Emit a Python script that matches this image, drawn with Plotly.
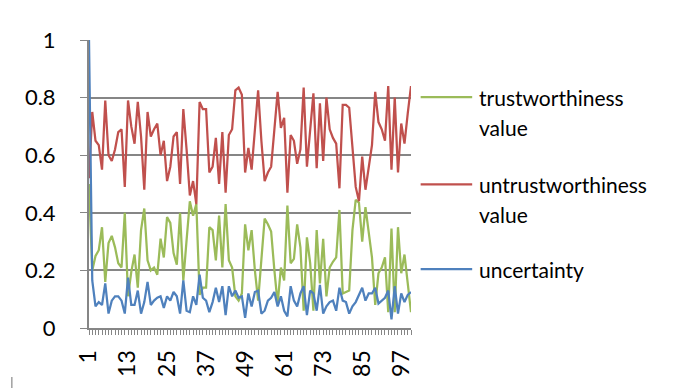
import plotly.graph_objects as go

# Observation index 1..100
index = list(range(1, 101))

trust = [
    0.50, 0.20, 0.25, 0.27, 0.35, 0.16, 0.295, 0.32, 0.28, 0.225,
    0.21, 0.40, 0.11, 0.195, 0.255, 0.14, 0.34, 0.415, 0.235, 0.20,
    0.21, 0.185, 0.31, 0.245, 0.385, 0.365, 0.26, 0.22, 0.40, 0.165,
    0.305, 0.44, 0.39, 0.43, 0.115, 0.14, 0.14, 0.35, 0.34, 0.235,
    0.39, 0.21, 0.43, 0.235, 0.21, 0.11, 0.095, 0.12, 0.36, 0.27,
    0.34, 0.20, 0.095, 0.245, 0.38, 0.36, 0.335, 0.20, 0.085, 0.21,
    0.165, 0.425, 0.225, 0.24, 0.36, 0.28, 0.06, 0.315, 0.225, 0.06,
    0.34, 0.155, 0.31, 0.11, 0.21, 0.23, 0.245, 0.41, 0.12, 0.125,
    0.13, 0.34, 0.445, 0.435, 0.30, 0.42, 0.34, 0.245, 0.08, 0.19,
    0.21, 0.245, 0.055, 0.345, 0.055, 0.35, 0.19, 0.255, 0.155, 0.055,
]

untrust = [
    0.52, 0.75, 0.65, 0.635, 0.55, 0.79, 0.60, 0.58, 0.62, 0.68,
    0.69, 0.49, 0.79, 0.70, 0.64, 0.785, 0.665, 0.48, 0.75, 0.665,
    0.69, 0.71, 0.60, 0.65, 0.51, 0.56, 0.665, 0.68, 0.50, 0.76,
    0.62, 0.46, 0.51, 0.43, 0.785, 0.76, 0.76, 0.54, 0.56, 0.66,
    0.50, 0.68, 0.47, 0.67, 0.69, 0.825, 0.835, 0.81, 0.54, 0.625,
    0.55, 0.70, 0.825, 0.65, 0.51, 0.54, 0.56, 0.69, 0.82, 0.695,
    0.73, 0.47, 0.67, 0.65, 0.57, 0.62, 0.835, 0.56, 0.70, 0.815,
    0.555, 0.78, 0.58, 0.80, 0.69, 0.66, 0.64, 0.485, 0.775, 0.775,
    0.765, 0.62, 0.49, 0.44, 0.595, 0.48, 0.565, 0.635, 0.82, 0.715,
    0.69, 0.65, 0.84, 0.55, 0.80, 0.54, 0.71, 0.64, 0.745, 0.84,
]

uncertainty = [
    1.00, 0.165, 0.075, 0.09, 0.08, 0.155, 0.05, 0.095, 0.11, 0.11,
    0.095, 0.05, 0.175, 0.08, 0.08, 0.13, 0.05, 0.09, 0.16, 0.08,
    0.095, 0.105, 0.11, 0.07, 0.11, 0.095, 0.125, 0.11, 0.05, 0.165,
    0.06, 0.055, 0.11, 0.08, 0.185, 0.105, 0.095, 0.055, 0.09, 0.14,
    0.09, 0.145, 0.045, 0.145, 0.11, 0.13, 0.105, 0.11, 0.035, 0.12,
    0.075, 0.125, 0.13, 0.05, 0.06, 0.095, 0.105, 0.125, 0.075, 0.11,
    0.06, 0.04, 0.145, 0.095, 0.075, 0.12, 0.145, 0.045, 0.13, 0.12,
    0.06, 0.15, 0.05, 0.075, 0.09, 0.095, 0.06, 0.14, 0.095, 0.09,
    0.05, 0.075, 0.09, 0.115, 0.14, 0.095, 0.12, 0.12, 0.14, 0.085,
    0.095, 0.105, 0.13, 0.03, 0.145, 0.05, 0.12, 0.09, 0.115, 0.125,
]

series_names = ["trustworthiness value", "untrustworthiness value", "uncertainty"]
legend_lines = [["trustworthiness", "value"], ["untrustworthiness", "value"], ["uncertainty"]]
series_colors = ["#9BBB59", "#C0504D", "#4F81BD"]
series_values = [trust, untrust, uncertainty]

x_tick_vals = list(range(1, 101, 12))
y_tick_vals = [0, 0.2, 0.4, 0.6, 0.8, 1.0]
y_tick_text = ["0", "0.2", "0.4", "0.6", "0.8", "1"]

FONT = "Lato, 'Open Sans', sans-serif"
GRID = "#868686"

fig = go.Figure()
# draw order: green, red, blue (blue on top)
for name, color, vals in zip(series_names, series_colors, series_values):
    fig.add_trace(go.Scatter(
        x=index, y=vals, mode="lines", name=name,
        line=dict(color=color, width=2.25), showlegend=False,
    ))

# legend: paper-space line samples with one label per text line
legend_y = [0.802, 0.499, 0.204]
line_step = 0.105
for lines, color, ly in zip(legend_lines, series_colors, legend_y):
    fig.add_shape(type="line", xref="paper", yref="paper",
                  x0=1.03, x1=1.19, y0=ly, y1=ly,
                  line=dict(color=color, width=2.25))
    for k, txt in enumerate(lines):
        fig.add_annotation(xref="paper", yref="paper", x=1.205, y=ly - k * line_step,
                           text=txt, showarrow=False, xanchor="left", yanchor="middle",
                           align="left", font=dict(family=FONT, size=21, color="#000000"))

# edge of the surrounding chart frame, lower left
fig.add_shape(type="line", xref="paper", yref="paper",
              x0=-0.2397, x1=-0.2397, y0=-0.17, y1=-0.21,
              line=dict(color="#A0A0A0", width=1.5))

fig.update_layout(
    width=684, height=388,
    margin=dict(l=89, r=273, t=40, b=60),
    paper_bgcolor="white", plot_bgcolor="white",
    font=dict(family=FONT, size=22, color="#000000"),
)
fig.update_xaxes(
    range=[1, 100], tickmode="array", tickvals=x_tick_vals,
    tickangle=-90, ticks="outside", ticklen=5, tickcolor=GRID,
    tickfont=dict(size=23),
    showgrid=False, zeroline=False, showline=True, linecolor=GRID, linewidth=2,
    minor=dict(dtick=1, tick0=1, ticks="outside", ticklen=5, tickcolor=GRID, showgrid=False),
    ticklabelstandoff=6,
)
fig.update_yaxes(
    range=[0, 1], tickmode="array", tickvals=y_tick_vals, ticktext=y_tick_text,
    ticks="outside", ticklen=7, tickcolor=GRID,
    tickfont=dict(size=22),
    showgrid=True, gridcolor=GRID, gridwidth=2,
    zeroline=False, showline=True, linecolor=GRID, linewidth=2,
    ticklabelstandoff=20,
)

fig.write_html("out.html")
